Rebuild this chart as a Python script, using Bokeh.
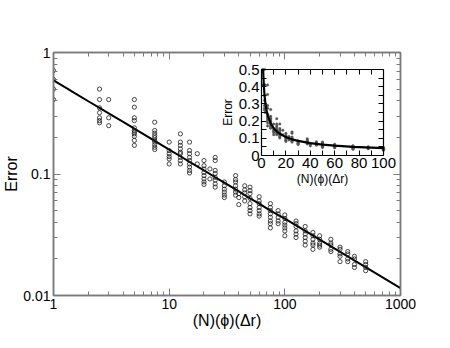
from bokeh.plotting import figure
from bokeh.models import (LogAxis, LinearAxis, FixedTicker, Range1d, LinearScale,
                          CustomJSTickFormatter)
from bokeh.embed import file_html
from bokeh.resources import INLINE

# ---------------- data ----------------
col_x = [1, 2.5, 3, 5, 7.5, 10, 12.5, 15, 17.5, 20, 22.5, 25, 30, 37.5, 40, 45, 50,
         60, 75, 87.5, 100, 125, 150, 175, 200, 250, 300, 350, 400, 500]
col_err = [
    [0.71, 0.60, 0.50, 0.41],
    [0.50, 0.41, 0.35, 0.32, 0.29, 0.275, 0.264],
    [0.41, 0.29, 0.25],
    [0.41, 0.355, 0.29, 0.275, 0.24, 0.228, 0.221, 0.214, 0.204, 0.189, 0.172],
    [0.267, 0.228, 0.217, 0.207, 0.199, 0.189, 0.183, 0.174, 0.166, 0.159],
    [0.183, 0.156, 0.147, 0.139, 0.133, 0.121],
    [0.214, 0.183, 0.172, 0.161, 0.151, 0.147, 0.137, 0.129, 0.121],
    [0.183, 0.156, 0.147, 0.137, 0.129, 0.121, 0.114, 0.107, 0.102],
    [0.147, 0.121],
    [0.129, 0.117, 0.110, 0.103, 0.097, 0.091, 0.086, 0.082],
    [0.110, 0.091],
    [0.137, 0.129, 0.107, 0.101, 0.094, 0.089, 0.083, 0.078],
    [0.086, 0.080, 0.075, 0.071, 0.067, 0.064],
    [0.097, 0.090, 0.086, 0.080, 0.075, 0.071, 0.067],
    [0.069, 0.064, 0.056],
    [0.080, 0.074, 0.070, 0.065, 0.060],
    [0.078, 0.073, 0.069, 0.063, 0.057, 0.053, 0.050, 0.047],
    [0.065, 0.060, 0.057, 0.053, 0.050, 0.047, 0.045],
    [0.057, 0.053, 0.050, 0.047, 0.044, 0.041, 0.039, 0.036],
    [0.050, 0.047, 0.044, 0.041, 0.039],
    [0.046, 0.043, 0.040, 0.038, 0.036, 0.034, 0.031],
    [0.041, 0.039, 0.037, 0.034, 0.032, 0.030],
    [0.037, 0.034, 0.032, 0.030, 0.028, 0.026],
    [0.033, 0.031, 0.029, 0.027, 0.026, 0.024],
    [0.031, 0.029, 0.027, 0.026, 0.025],
    [0.029, 0.027, 0.026, 0.024, 0.023],
    [0.025, 0.024, 0.022, 0.021, 0.019],
    [0.023, 0.022, 0.020, 0.019],
    [0.021, 0.020, 0.018, 0.017],
    [0.019, 0.018, 0.017, 0.016],
]

fit_x = [1, 1.34, 1.5, 2, 2.5, 3, 4, 5, 7.5, 10, 12.5, 15, 20, 25, 30, 40, 50, 60, 75, 100, 1000]
fit_y = [0.59, 0.50, 0.468, 0.397, 0.350, 0.316, 0.268, 0.236, 0.187, 0.159, 0.140, 0.126,
         0.107, 0.094, 0.085, 0.072, 0.063, 0.057, 0.050, 0.043, 0.0115]

main_xticks = [1, 10, 100, 1000]
main_xlabels = ["1", "10", "100", "1000"]
main_yticks = [0.01, 0.1, 1]
main_ylabels = ["0.01", "0.1", "1"]
inset_xticks = [0, 20, 40, 60, 80, 100]
inset_xlabels = ["0", "20", "40", "60", "80", "100"]
inset_yticks = [0, 0.1, 0.2, 0.3, 0.4, 0.5]
inset_ylabels = ["0", "0.1", "0.2", "0.3", "0.4", "0.5"]
inset_xlim = (0, 100)
inset_ylim = (0, 0.5)
x_title = "(N)(ϕ)(Δr)"
y_title = "Error"

# ---------------- derived ----------------
pts_x, pts_y = [], []
for cx, ys in zip(col_x, col_err):
    for yv in ys:
        pts_x.append(cx)
        pts_y.append(yv)
keep = [a <= inset_xlim[1] and b <= inset_ylim[1] for a, b in zip(pts_x, pts_y)]
ins_px = [a for a, k in zip(pts_x, keep) if k]
ins_py = [b for b, k in zip(pts_y, keep) if k]
fkeep = [a <= inset_xlim[1] and b <= inset_ylim[1] for a, b in zip(fit_x, fit_y)]
ins_fx = [a for a, k in zip(fit_x, fkeep) if k]
ins_fy = [b for b, k in zip(fit_y, fkeep) if k]

FONT = "Liberation Sans"
GREY = "#7a7a7a"
blank = CustomJSTickFormatter(code="return ''")

p = figure(x_axis_type="log", y_axis_type="log",
           x_range=Range1d(1, 1000), y_range=Range1d(0.01, 1),
           frame_width=347, frame_height=243,
           min_border_left=0, min_border_right=30, min_border_top=52, min_border_bottom=0,
           output_backend="svg", toolbar_location=None)
p.background_fill_color = "white"
p.border_fill_color = "white"
p.outline_line_color = GREY
p.outline_line_width = 1.5
p.xgrid.visible = False
p.ygrid.visible = False


def minors(decades):
    out = []
    for d in decades:
        out += [k * d for k in range(2, 10)]
    return out


xt = FixedTicker(ticks=main_xticks, minor_ticks=minors([1, 10, 100]))
yt = FixedTicker(ticks=main_yticks, minor_ticks=minors([0.01, 0.1]))


def style_main(ax, show_labels=True):
    ax.axis_line_color = GREY
    ax.axis_line_width = 1.5
    ax.major_tick_line_color = GREY
    ax.minor_tick_line_color = GREY
    ax.major_tick_line_width = 1
    ax.minor_tick_line_width = 1
    ax.major_tick_in = 7
    ax.major_tick_out = 0
    ax.minor_tick_in = 4
    ax.minor_tick_out = 0
    ax.major_label_text_font = FONT
    ax.major_label_text_color = "black"
    ax.major_label_text_font_size = "14px"
    ax.axis_label_text_font = FONT
    ax.axis_label_text_font_style = "normal"
    ax.axis_label_text_color = "black"
    ax.axis_label_text_font_size = "16px"
    if show_labels:
        ax.major_label_standoff = 3
        ax.axis_label_standoff = 0
    else:
        ax.formatter = blank
        ax.major_label_standoff = 0


bx = p.xaxis[0]
bx.ticker = xt
bx.major_label_overrides = dict(zip(main_xticks, main_xlabels))
bx.axis_label = x_title
style_main(bx)

ly = p.yaxis[0]
ly.ticker = yt
ly.major_label_overrides = dict(zip(main_yticks, main_ylabels))
ly.axis_label = y_title
style_main(ly)

top = LogAxis(ticker=xt)
style_main(top, False)
p.add_layout(top, "above")
right = LogAxis(ticker=yt)
style_main(right, False)
p.add_layout(right, "right")

# main plot marks
p.line(fit_x, fit_y, line_color="black", line_width=2)
p.scatter(pts_x, pts_y, marker="circle", size=4.2, fill_color=None,
          line_color="#1a1a1a", line_width=0.8)

# ---------------- inset (linear scales mapped into part of the frame) ----------------
fw, fh = 347, 243
in_left, in_right = 208, 330        # px from frame left
in_top, in_bottom = 17, 103         # px from frame top
ux = (inset_xlim[1] - inset_xlim[0]) / (in_right - in_left)
uy = (inset_ylim[1] - inset_ylim[0]) / (in_bottom - in_top)
p.extra_x_ranges = {"inx": Range1d(inset_xlim[0] - in_left * ux, inset_xlim[1] + (fw - in_right) * ux)}
p.extra_y_ranges = {"iny": Range1d(inset_ylim[0] - (fh - in_bottom) * uy, inset_ylim[1] + in_top * uy)}
p.extra_x_scales = {"inx": LinearScale()}
p.extra_y_scales = {"iny": LinearScale()}

p.scatter(ins_px, ins_py, marker="circle", size=2.6, fill_color="#555555",
          line_color="#555555", line_width=0.3, x_range_name="inx", y_range_name="iny")
p.line(ins_fx, ins_fy, line_color="black", line_width=2.2,
       x_range_name="inx", y_range_name="iny")

ixt = FixedTicker(ticks=inset_xticks, minor_ticks=[10, 30, 50, 70, 90])
iyt = FixedTicker(ticks=inset_yticks, minor_ticks=[0.05, 0.15, 0.25, 0.35, 0.45])


def style_inset(ax, show_labels=True):
    ax.axis_line_color = "black"
    ax.axis_line_width = 1.2
    ax.major_tick_line_color = "black"
    ax.minor_tick_line_color = "black"
    ax.major_tick_in = 5
    ax.major_tick_out = 0
    ax.minor_tick_in = 5
    ax.minor_tick_out = 0
    ax.major_label_text_font = FONT
    ax.major_label_text_color = "black"
    ax.major_label_text_font_size = "15px"
    ax.axis_label_text_font = FONT
    ax.axis_label_text_font_style = "normal"
    ax.axis_label_text_color = "black"
    ax.axis_label_text_font_size = "12px"
    if show_labels:
        ax.major_label_standoff = 2
        ax.axis_label_standoff = 1
    else:
        ax.formatter = blank


ib = LinearAxis(x_range_name="inx", y_range_name="iny", fixed_location=inset_ylim[0],
                bounds=inset_xlim, ticker=ixt, axis_label=x_title,
                major_label_overrides=dict(zip(inset_xticks, inset_xlabels)))
style_inset(ib)
p.add_layout(ib, "below")

il = LinearAxis(x_range_name="inx", y_range_name="iny", fixed_location=inset_xlim[0],
                bounds=inset_ylim, ticker=iyt, axis_label=y_title,
                major_label_overrides=dict(zip(inset_yticks, inset_ylabels)))
style_inset(il)
p.add_layout(il, "left")

it = LinearAxis(x_range_name="inx", y_range_name="iny", fixed_location=inset_ylim[1],
                bounds=inset_xlim, ticker=ixt)
style_inset(it, False)
p.add_layout(it, "above")

ir = LinearAxis(x_range_name="inx", y_range_name="iny", fixed_location=inset_xlim[1],
                bounds=inset_ylim, ticker=iyt)
style_inset(ir, False)
p.add_layout(ir, "right")

open("out.html", "w").write(file_html(p, INLINE))
